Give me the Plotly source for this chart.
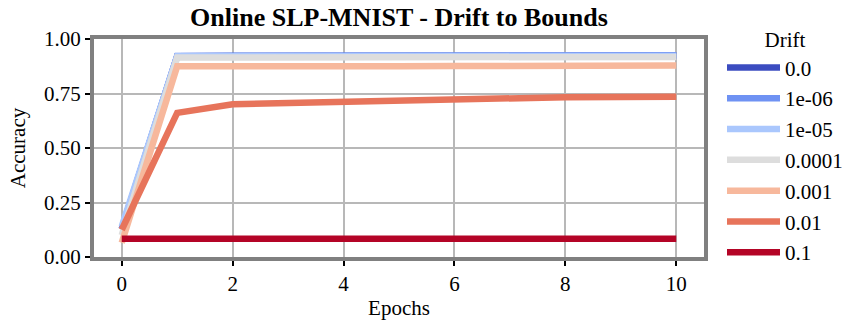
import plotly.graph_objects as go

epochs = list(range(11))

drift_labels = ["0.0", "1e-06", "1e-05", "0.0001", "0.001", "0.01", "0.1"]

acc_0 = [0.128, 0.921, 0.922, 0.922, 0.923, 0.923, 0.923, 0.924, 0.924, 0.924, 0.924]
acc_1e6 = [0.130, 0.922, 0.923, 0.923, 0.924, 0.924, 0.924, 0.925, 0.925, 0.925, 0.925]
acc_1e5 = [0.140, 0.921, 0.921, 0.922, 0.922, 0.924, 0.923, 0.923, 0.923, 0.922, 0.922]
acc_1e4 = [0.100, 0.915, 0.915, 0.916, 0.917, 0.918, 0.917, 0.918, 0.918, 0.918, 0.918]
acc_1e3 = [0.065, 0.875, 0.875, 0.873, 0.874, 0.875, 0.876, 0.877, 0.877, 0.877, 0.878]
acc_1e2 = [0.125, 0.661, 0.701, 0.707, 0.709, 0.713, 0.719, 0.732, 0.733, 0.734, 0.735]
acc_1e1 = [0.084, 0.084, 0.084, 0.084, 0.084, 0.084, 0.084, 0.084, 0.084, 0.084, 0.084]

series = [acc_0, acc_1e6, acc_1e5, acc_1e4, acc_1e3, acc_1e2, acc_1e1]
colors = ["#3b4cc0", "#6f92f3", "#aac7fd", "#dddddd", "#f7b89c", "#e7745b", "#b40426"]

x_ticks = [0, 2, 4, 6, 8, 10]
y_ticks = [0.0, 0.25, 0.5, 0.75, 1.0]
y_tick_text = ["0.00", "0.25", "0.50", "0.75", "1.00"]

serif = "Liberation Serif, Times New Roman, serif"

# plot area in pixels
L, R, T, B = 94, 704, 39, 257
W, H = 849, 326


def px_x(px):
    return (px - L) / (R - L)


def px_y(py):
    return (B - py) / (B - T)


fig = go.Figure()
for label, vals, col in zip(drift_labels, series, colors):
    fig.add_trace(go.Scatter(
        x=epochs, y=vals, mode="lines",
        name=f"<span style='font-family:Liberation Serif'>{label}</span>",
        legendgroup=label,
        line=dict(color=col, width=6.5),
    ))

axis_common = dict(
    showline=True, mirror=True, linecolor="#808080", linewidth=4,
    showgrid=True, gridcolor="#b8b8b8", gridwidth=1.5,
    zeroline=False,
    ticks="outside", ticklen=5, tickwidth=1.5, tickcolor="#000000",
    tickfont=dict(family=serif, size=21, color="#000000"),
    title_font=dict(family=serif, size=21, color="#000000"),
)

fig.update_layout(
    width=W, height=H,
    font=dict(family=serif, size=21, color="#000000"),
    margin=dict(l=L, r=W - R, t=T, b=H - B, autoexpand=False),
    paper_bgcolor="white", plot_bgcolor="white",
    title=dict(
        text="<b>Online SLP-MNIST - Drift to Bounds</b>",
        font=dict(family=serif, size=26, color="#000000"),
        x=(L + (R - L) / 2) / W, xanchor="center",
        y=1 - 17 / H, yanchor="middle",
    ),
    legend=dict(
        title=dict(text="Drift", font=dict(family=serif, size=21, color="#000000"), side="top center"),
        font=dict(family=serif, size=21, color="#000000"),
        x=px_x(722), xanchor="left",
        y=px_y(20), yanchor="top",
        itemwidth=53,
        tracegroupgap=0.5,
        traceorder="grouped",
        bgcolor="rgba(0,0,0,0)",
        maxheight=1.0,
    ),
    xaxis=dict(
        range=[-0.5, 10.5], tickvals=x_ticks,
        title=dict(text="Epochs", standoff=6),
        **axis_common,
    ),
    yaxis=dict(
        range=[0, 1], tickvals=y_ticks, ticktext=y_tick_text,
        title=dict(text="Accuracy", standoff=14),
        **axis_common,
    ),
)

fig.write_html("out.html")
